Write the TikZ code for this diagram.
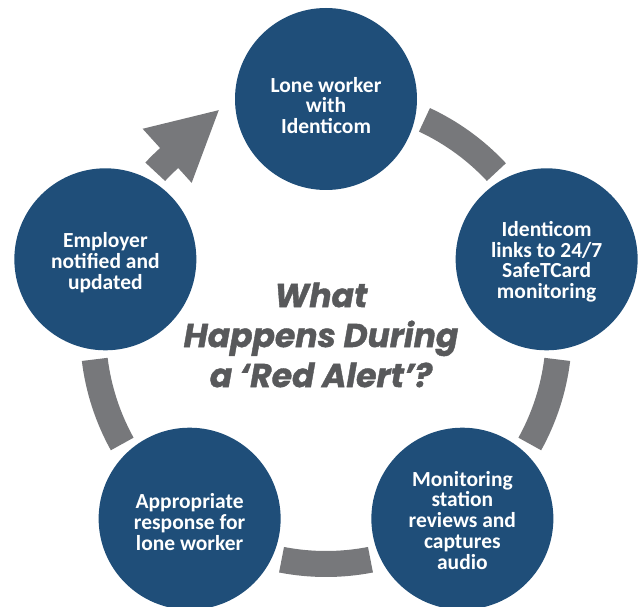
\documentclass[tikz,border=0pt]{standalone}
\usepackage{fontspec}
\newfontfamily\nodefont{Carlito}
\newfontfamily\titlefont{Poppins}[BoldItalicFeatures={FakeBold=1.2}]
\definecolor{nodeblue}{HTML}{1F4E79}
\definecolor{arcgray}{HTML}{77787B}
\definecolor{titlegray}{HTML}{58595B}
\newcommand{\lowerby}[1]{\rule{0pt}{#1}}
\begin{document}
\begin{tikzpicture}[x=1pt,y=1pt,
  stage/.style={circle, fill=nodeblue, minimum size=182pt, inner sep=0pt,
    text=white, align=center,
    font=\nodefont\bfseries\fontsize{21.5}{20.8}\selectfont},
  band/.style={fill=arcgray},
  titletext/.style={text=titlegray, align=center,
    font=\titlefont\bfseries\itshape\fontsize{33}{40}\selectfont}]
\useasboundingbox (0,0) rectangle (640,606);
\clip (0,0) rectangle (640,606);
\coordinate (c) at (326,275);
% connectors (block arcs)
\fill[band] ([shift={(65:220)}]c) arc[start angle=65, end angle=43, radius=220]
  -- ([shift={(43:246)}]c) arc[start angle=43, end angle=65, radius=246] -- cycle;
\fill[band] ([shift={(-7:220)}]c) arc[start angle=-7, end angle=-29, radius=220]
  -- ([shift={(-29:246)}]c) arc[start angle=-29, end angle=-7, radius=246] -- cycle;
\fill[band] ([shift={(-79:220)}]c) arc[start angle=-79, end angle=-101, radius=220]
  -- ([shift={(-101:246)}]c) arc[start angle=-101, end angle=-79, radius=246] -- cycle;
\fill[band] ([shift={(-151:220)}]c) arc[start angle=-151, end angle=-173, radius=220]
  -- ([shift={(-173:246)}]c) arc[start angle=-173, end angle=-151, radius=246] -- cycle;
% arrow into top node
\fill[band] ([shift={(137:220)}]c) arc[start angle=137, end angle=132.2, radius=220]
  -- ([shift={(132.2:200)}]c) -- ([shift={(115.9:245.5)}]c) -- ([shift={(132.2:273)}]c)
  -- ([shift={(132.2:247)}]c) arc[start angle=132.2, end angle=137, radius=247] -- cycle;
% stages
\node[stage] (n1) at ([shift={(90:232)}]c) {\lowerby{28pt}Lone worker\\with\\Identicom};
\node[stage] (n2) at ([shift={(18:232)}]c) {\lowerby{20pt}Identicom\\links to 24/7\\SafeTCard\\monitoring};
\node[stage] (n3) at ([shift={(-54:232)}]c) {\lowerby{18pt}Monitoring\\station\\reviews and\\captures\\audio};
\node[stage] (n4) at ([shift={(-126:232)}]c) {\lowerby{22pt}Appropriate\\response for\\lone worker};
\node[stage] (n5) at ([shift={(162:232)}]c) {\lowerby{22pt}Employer\\notified and\\updated};
% title
\node[titletext] (title) at (321,271) {What\\Happens During\\a ‘Red Alert’?};
\end{tikzpicture}
\end{document}
